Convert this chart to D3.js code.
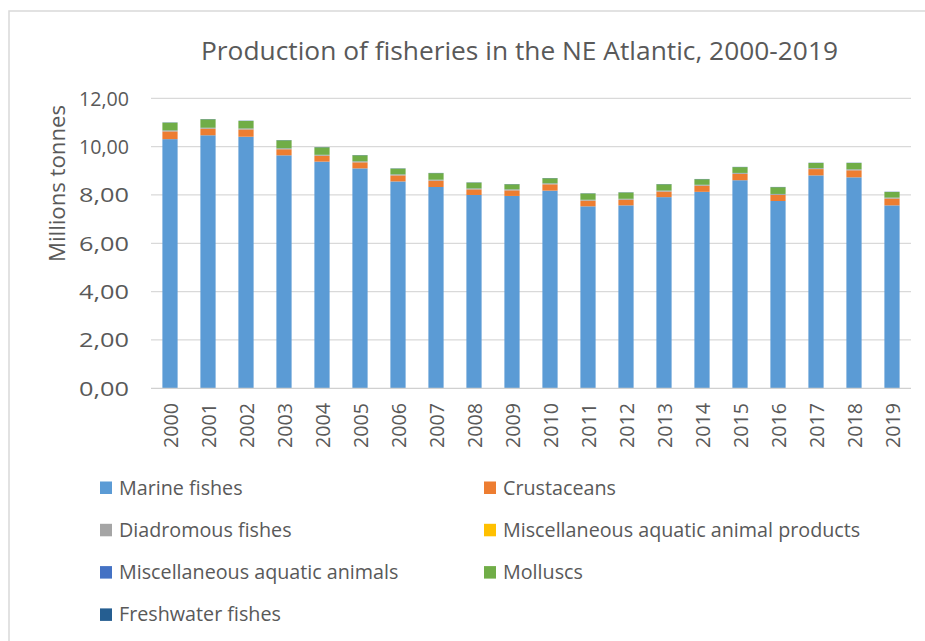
<!DOCTYPE html>
<html>
<head>
<meta charset="utf-8">
<script src="https://cdn.jsdelivr.net/npm/d3@7/dist/d3.min.js"></script>
<style>
  html, body { margin: 0; padding: 0; background: #fff; }
  svg { display: block; }
  text { font-family: "Open Sans", sans-serif; fill: #595959; }
</style>
</head>
<body>
<svg id="chart" width="925" height="641"></svg>
<script>
// Production by species group, millions of tonnes
const years = ["2000","2001","2002","2003","2004","2005","2006","2007","2008","2009",
               "2010","2011","2012","2013","2014","2015","2016","2017","2018","2019"];
const marineFishes = [10.31,10.47,10.41,9.64,9.38,9.10,8.56,8.33,8.00,7.96,
                      8.18,7.53,7.57,7.91,8.13,8.61,7.75,8.81,8.73,7.57];
const crustaceans  = [0.32,0.27,0.30,0.25,0.24,0.25,0.25,0.26,0.23,0.23,
                      0.26,0.23,0.23,0.23,0.25,0.26,0.25,0.26,0.29,0.28];
const diadromousFishes = [0.03,0.03,0.03,0.03,0.03,0.03,0.03,0.03,0.03,0.03,
                          0.03,0.03,0.03,0.03,0.03,0.03,0.03,0.03,0.03,0.03];
const miscProducts = [0.002,0.002,0.002,0.002,0.002,0.002,0.002,0.002,0.002,0.002,
                      0.002,0.002,0.002,0.002,0.002,0.002,0.002,0.002,0.002,0.002];
const miscAnimals  = [0.01,0.01,0.01,0.01,0.01,0.01,0.01,0.01,0.01,0.01,
                      0.01,0.01,0.01,0.01,0.01,0.01,0.01,0.01,0.01,0.01];
const molluscs     = [0.32,0.35,0.31,0.33,0.31,0.25,0.24,0.27,0.24,0.21,
                      0.21,0.26,0.26,0.26,0.23,0.24,0.28,0.21,0.26,0.23];
const freshwaterFishes = [0.01,0.01,0.01,0.01,0.01,0.01,0.01,0.01,0.01,0.01,
                          0.01,0.01,0.01,0.01,0.01,0.01,0.01,0.01,0.01,0.01];
const yTicks = [0, 2, 4, 6, 8, 10, 12];

const seriesNames = ["Marine fishes","Crustaceans","Diadromous fishes",
  "Miscellaneous aquatic animal products","Miscellaneous aquatic animals",
  "Molluscs","Freshwater fishes"];
const seriesValues = [marineFishes, crustaceans, diadromousFishes, miscProducts,
  miscAnimals, molluscs, freshwaterFishes];
const seriesColors = ["#5B9BD5","#ED7D31","#A5A5A5","#FFC000","#4472C4","#70AD47","#255E91"];

const rows = years.map((y, i) => {
  const r = { year: y };
  seriesNames.forEach((n, k) => r[n] = seriesValues[k][i]);
  return r;
});

const svg = d3.select("#chart");

// squeeze a text element horizontally to a given width
function fitTo(sel, width) {
  sel.attr("textLength", width).attr("lengthAdjust", "spacingAndGlyphs");
}
function squeeze(sel, factor) {
  sel.each(function () {
    const w = this.getComputedTextLength();
    d3.select(this).attr("textLength", w * factor).attr("lengthAdjust", "spacingAndGlyphs");
  });
}

// outer chart frame
svg.append("rect")
  .attr("x", 9).attr("y", 11).attr("width", 940).attr("height", 660)
  .attr("fill", "none").attr("stroke", "#d9d9d9").attr("stroke-width", 1.5);

const plot = { left: 151, right: 911, top: 98.3, bottom: 388.3 };

const x = d3.scaleBand().domain(years).range([plot.left, plot.right])
  .paddingInner(0.6).paddingOuter(0.3);
const y = d3.scaleLinear().domain([0, 12]).range([plot.bottom, plot.top]);

// gridlines
svg.append("g").selectAll("line").data(yTicks.filter(d => d > 0)).join("line")
  .attr("x1", plot.left).attr("x2", plot.right)
  .attr("y1", d => y(d)).attr("y2", d => y(d))
  .attr("stroke", "#d9d9d9").attr("stroke-width", 1.3);

// stacked bars
const stack = d3.stack().keys(seriesNames);
const layers = stack(rows);
svg.append("g").selectAll("g").data(layers).join("g")
  .attr("fill", (d, i) => seriesColors[i])
  .selectAll("rect").data(d => d).join("rect")
  .attr("x", d => x(d.data.year))
  .attr("width", x.bandwidth())
  .attr("y", d => y(d[1]))
  .attr("height", d => Math.max(0, y(d[0]) - y(d[1])));

// category axis line
svg.append("line")
  .attr("x1", plot.left).attr("x2", plot.right)
  .attr("y1", plot.bottom).attr("y2", plot.bottom)
  .attr("stroke", "#d0d0d0").attr("stroke-width", 1.3);

// value tick labels
const fmt = d => d3.format(".2f")(d).replace(".", ",");
svg.append("g").selectAll("text").data(yTicks).join("text")
  .attr("x", 129).attr("y", d => y(d))
  .attr("text-anchor", "end").attr("dominant-baseline", "central")
  .attr("font-size", 19.5)
  .text(fmt)
  .call(fitTo, 50);

// year labels, rotated
svg.append("g").selectAll("text").data(years).join("text")
  .attr("transform", d => `translate(${x(d) + x.bandwidth() / 2},403) rotate(-90)`)
  .attr("text-anchor", "end").attr("dominant-baseline", "central")
  .attr("font-size", 19.5)
  .text(d => d)
  .call(fitTo, 45);

// axis title
svg.append("text")
  .attr("transform", "translate(65,183.5) rotate(-90)")
  .attr("text-anchor", "middle")
  .attr("font-size", 22)
  .text("Millions tonnes")
  .call(fitTo, 157);

// chart title
svg.append("text")
  .attr("x", 519.5).attr("y", 60)
  .attr("text-anchor", "middle")
  .attr("font-size", 25)
  .text("Production of fisheries in the NE Atlantic, 2000-2019")
  .call(fitTo, 637);

// legend, two columns
const legend = svg.append("g");
const items = legend.selectAll("g").data(seriesNames).join("g")
  .attr("transform", (d, i) => `translate(${i % 2 === 0 ? 100 : 484},${494 + Math.floor(i / 2) * 42.3})`);
items.append("rect")
  .attr("x", 0).attr("y", -12.5).attr("width", 12).attr("height", 12.5)
  .attr("fill", (d, i) => seriesColors[i]);
const labels = items.append("text")
  .attr("x", 19).attr("y", 0.5)
  .attr("font-size", 20.5)
  .text(d => d);
// common squeeze so "Marine fishes" spans its width
const ref = labels.filter(d => d === "Marine fishes").node().getComputedTextLength();
labels.call(squeeze, 123.6 / ref);
</script>
</body>
</html>
